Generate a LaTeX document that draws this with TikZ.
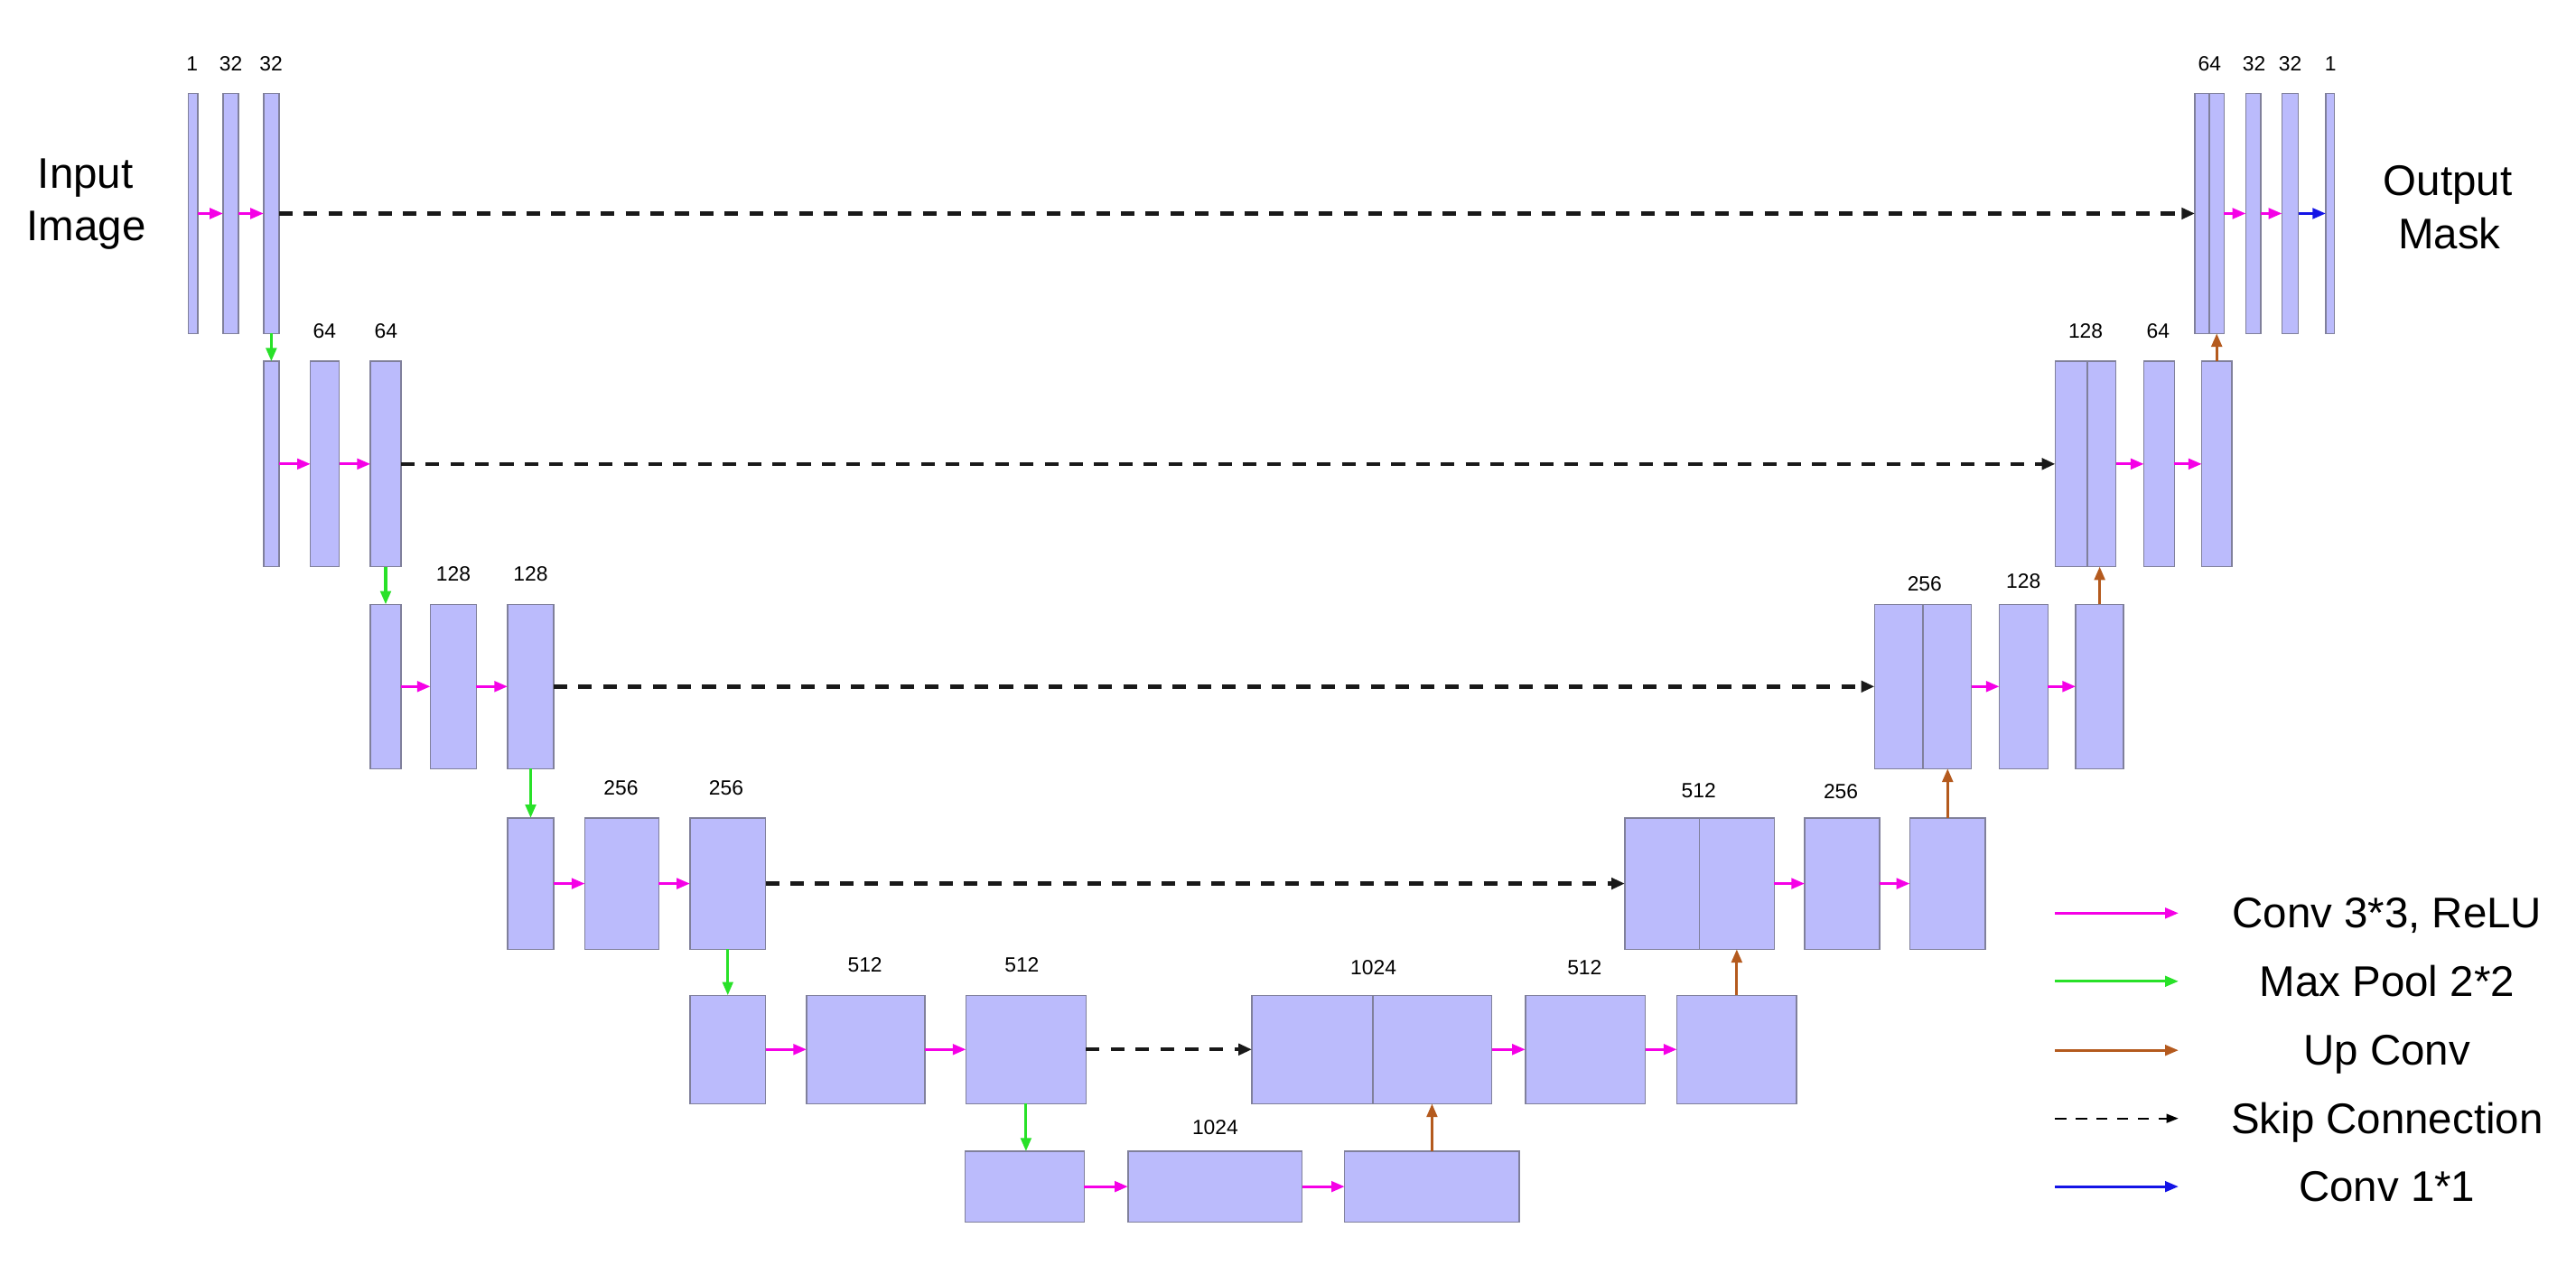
\documentclass[tikz,border=0pt]{standalone}
\usepackage{fontspec}
\setmainfont{Liberation Sans}
\usetikzlibrary{arrows.meta,fit}
\definecolor{boxfill}{RGB}{187,187,252}
\definecolor{boxdraw}{RGB}{128,128,155}
\definecolor{convc}{RGB}{245,0,230}
\definecolor{poolc}{RGB}{40,225,40}
\definecolor{upc}{RGB}{180,90,30}
\definecolor{onec}{RGB}{20,20,230}
\definecolor{skipc}{RGB}{25,25,25}
\tikzset{
  ubox/.style={draw=boxdraw, fill=boxfill, line width=0.4pt, inner sep=0pt, outer sep=0pt},
  lab/.style={anchor=base, inner sep=0pt, font=\fontsize{6.5}{8}\selectfont},
  big/.style={anchor=base, inner sep=0pt, font=\fontsize{13.5}{16}\selectfont},
  conv/.style={draw=convc, line width=0.9pt, -{Triangle[length=4.2pt,width=3.3pt]}},
  pool/.style={draw=poolc, line width=0.9pt, -{Triangle[length=4.2pt,width=3.3pt]}},
  upconv/.style={draw=upc, line width=0.9pt, -{Triangle[length=4.2pt,width=3.3pt]}},
  skip/.style={draw=skipc, line width=1.25pt, dash pattern=on 4.3pt off 3.5pt, -{Triangle[length=4.2pt,width=3.5pt]}},
  onebyone/.style={draw=onec, line width=0.9pt, -{Triangle[length=4.2pt,width=3.3pt]}},
  legskip/.style={draw=black, line width=0.6pt, dash pattern=on 3.5pt off 3pt, -{Triangle[length=3.8pt,width=2.8pt]}},
}
\newcommand\UB[5]{\node[ubox, fit={(#2,#3) (#4,#5)}] (#1) {};}
\begin{document}
\begin{tikzpicture}[x=0.018189cm, y=-0.018189cm]
\useasboundingbox (0,0) rectangle (1568,770);

% ---------- Level 0 ----------
\UB{a1}{114.5}{57}{120.5}{203}
\UB{a2}{135.8}{57}{145.2}{203}
\UB{a3}{160.5}{57}{169.8}{203}
\UB{r0a}{1336}{57}{1344.7}{203}
\UB{r0b}{1344.7}{57}{1353.8}{203}
\UB{o1}{1367}{57}{1376}{203}
\UB{o2}{1389}{57}{1399}{203}
\UB{o3}{1415.7}{57}{1421}{203}
% ---------- Level 1 ----------
\UB{b1}{160.5}{220}{169.8}{345}
\UB{b2}{189}{220}{206.5}{345}
\UB{b3}{225.5}{220}{244}{345}
\UB{r1a}{1251}{220}{1270.5}{345}
\UB{r1b}{1270.5}{220}{1288}{345}
\UB{q2}{1305}{220}{1323.5}{345}
\UB{q3}{1340.2}{220}{1358.4}{345}
% ---------- Level 2 ----------
\UB{c1}{225.5}{368}{244}{468}
\UB{c2}{262}{368}{290}{468}
\UB{c3}{309}{368}{337}{468}
\UB{r2a}{1141}{368}{1170.5}{468}
\UB{r2b}{1170.5}{368}{1200}{468}
\UB{p2}{1217}{368}{1246.5}{468}
\UB{p3}{1263.5}{368}{1292.6}{468}
% ---------- Level 3 ----------
\UB{d1}{309}{498}{337}{578}
\UB{d2}{356}{498}{401}{578}
\UB{d3}{420}{498}{466}{578}
\UB{r3a}{989}{498}{1034.5}{578}
\UB{r3b}{1034.5}{498}{1080}{578}
\UB{s2}{1098.5}{498}{1144}{578}
\UB{s3}{1162.5}{498}{1208.5}{578}
% ---------- Level 4 ----------
\UB{e1}{420}{606}{466}{672}
\UB{e2}{491}{606}{563}{672}
\UB{e3}{588}{606}{661}{672}
\UB{fa}{762}{606}{835.6}{672}
\UB{fb}{835.6}{606}{908}{672}
\UB{t2}{928.5}{606}{1001.5}{672}
\UB{t3}{1020.7}{606}{1093.6}{672}
% ---------- Level 5 ----------
\UB{g1}{587.5}{701}{660}{744}
\UB{g2}{686.6}{701}{792.6}{744}
\UB{g3}{818.5}{701}{924.8}{744}

% ---------- labels ----------
\node[lab] (la1) at (117,43) {1};
\node[lab] (la2) at (140.5,43) {32};
\node[lab] (la3) at (165,43) {32};
\node[lab] (lr0) at (1345,43) {64};
\node[lab] (lo1) at (1372,43) {32};
\node[lab] (lo2) at (1394,43) {32};
\node[lab] (lo3) at (1418.5,43) {1};

\node[lab] (lb2) at (197.6,206) {64};
\node[lab] (lb3) at (235,206) {64};
\node[lab] (lr1) at (1269.5,206) {128};
\node[lab] (lq2) at (1313.6,206) {64};

\node[lab] (lc2) at (276,353.6) {128};
\node[lab] (lc3) at (323,353.6) {128};
\node[lab] (lr2) at (1171.5,360) {256};
\node[lab] (lp2) at (1231.6,358) {128};

\node[lab] (ld2) at (378,484) {256};
\node[lab] (ld3) at (442,484) {256};
\node[lab] (lr3) at (1034,485.5) {512};
\node[lab] (ls2) at (1120.5,486.5) {256};

\node[lab] (le2) at (526.5,592) {512};
\node[lab] (le3) at (622,592) {512};
\node[lab] (lf) at (836,593.5) {1024};
\node[lab] (lt2) at (964.5,593.5) {512};

\node[lab] (lg2) at (739.7,691) {1024};

% ---------- big texts ----------
\node[big] (in1) at (52,114.5) {Input};
\node[big] (in2) at (52.5,146.6) {Image};
\node[big] (out1) at (1490,119) {Output};
\node[big] (out2) at (1491,151.2) {Mask};

% ---------- conv arrows ----------
\draw[conv] (a1.east) -- (a2.west);
\draw[conv] (a2.east) -- (a3.west);
\draw[conv] (b1.east) -- (b2.west);
\draw[conv] (b2.east) -- (b3.west);
\draw[conv] (c1.east) -- (c2.west);
\draw[conv] (c2.east) -- (c3.west);
\draw[conv] (d1.east) -- (d2.west);
\draw[conv] (d2.east) -- (d3.west);
\draw[conv] (e1.east) -- (e2.west);
\draw[conv] (e2.east) -- (e3.west);
\draw[conv] (g1.east) -- (g2.west);
\draw[conv] (g2.east) -- (g3.west);
\draw[conv] (fb.east) -- (t2.west);
\draw[conv] (t2.east) -- (t3.west);
\draw[conv] (r3b.east) -- (s2.west);
\draw[conv] (s2.east) -- (s3.west);
\draw[conv] (r2b.east) -- (p2.west);
\draw[conv] (p2.east) -- (p3.west);
\draw[conv] (r1b.east) -- (q2.west);
\draw[conv] (q2.east) -- (q3.west);
\draw[conv] (r0b.east) -- (o1.west);
\draw[conv] (o1.east) -- (o2.west);
\draw[onebyone] (o2.east) -- (o3.west);

% ---------- skip connections ----------
\draw[skip] (a3.east) -- (r0a.west);
\draw[skip] (b3.east) -- (r1a.west);
\draw[skip] (c3.east) -- (r2a.west);
\draw[skip] (d3.east) -- (r3a.west);
\draw[skip] (e3.east) -- (fa.west);

% ---------- max pool ----------
\draw[pool] (a3.south) -- (a3.south |- b1.north);
\draw[pool] (b3.south) -- (b3.south |- c1.north);
\draw[pool] (c3.south) -- (c3.south |- d1.north);
\draw[pool] (d3.south) -- (d3.south |- e1.north);
\draw[pool] (e3.south) -- (e3.south |- g1.north);

% ---------- up conv ----------
\draw[upconv] (g3.north) -- (g3.north |- fb.south);
\draw[upconv] (t3.north) -- (t3.north |- r3b.south);
\draw[upconv] (s3.north) -- (s3.north |- r2b.south);
\draw[upconv] (p3.north) -- (p3.north |- r1b.south);
\draw[upconv] (q3.north) -- (q3.north |- r0b.south);

% ---------- legend ----------
\coordinate (k1s) at (1251,556);   \coordinate (k1e) at (1326,556);
\coordinate (k2s) at (1251,597.5); \coordinate (k2e) at (1326,597.5);
\coordinate (k3s) at (1251,639.5); \coordinate (k3e) at (1326,639.5);
\coordinate (k4s) at (1251,681);   \coordinate (k4e) at (1326,681);
\coordinate (k5s) at (1251,722.5); \coordinate (k5e) at (1326,722.5);
\draw[conv, line width=0.8pt] (k1s) -- (k1e);
\draw[pool, line width=0.8pt] (k2s) -- (k2e);
\draw[upconv, line width=0.8pt] (k3s) -- (k3e);
\draw[legskip] (k4s) -- (k4e);
\draw[onebyone, line width=0.8pt] (k5s) -- (k5e);
\node[big] (t1) at (1453,565) {Conv 3*3, ReLU};
\node[big] (t2l) at (1453,606.5) {Max Pool 2*2};
\node[big] (t3l) at (1453,648.5) {Up Conv};
\node[big] (t4l) at (1453,690) {Skip Connection};
\node[big] (t5l) at (1453,731.5) {Conv 1*1};
\end{tikzpicture}
\end{document}
